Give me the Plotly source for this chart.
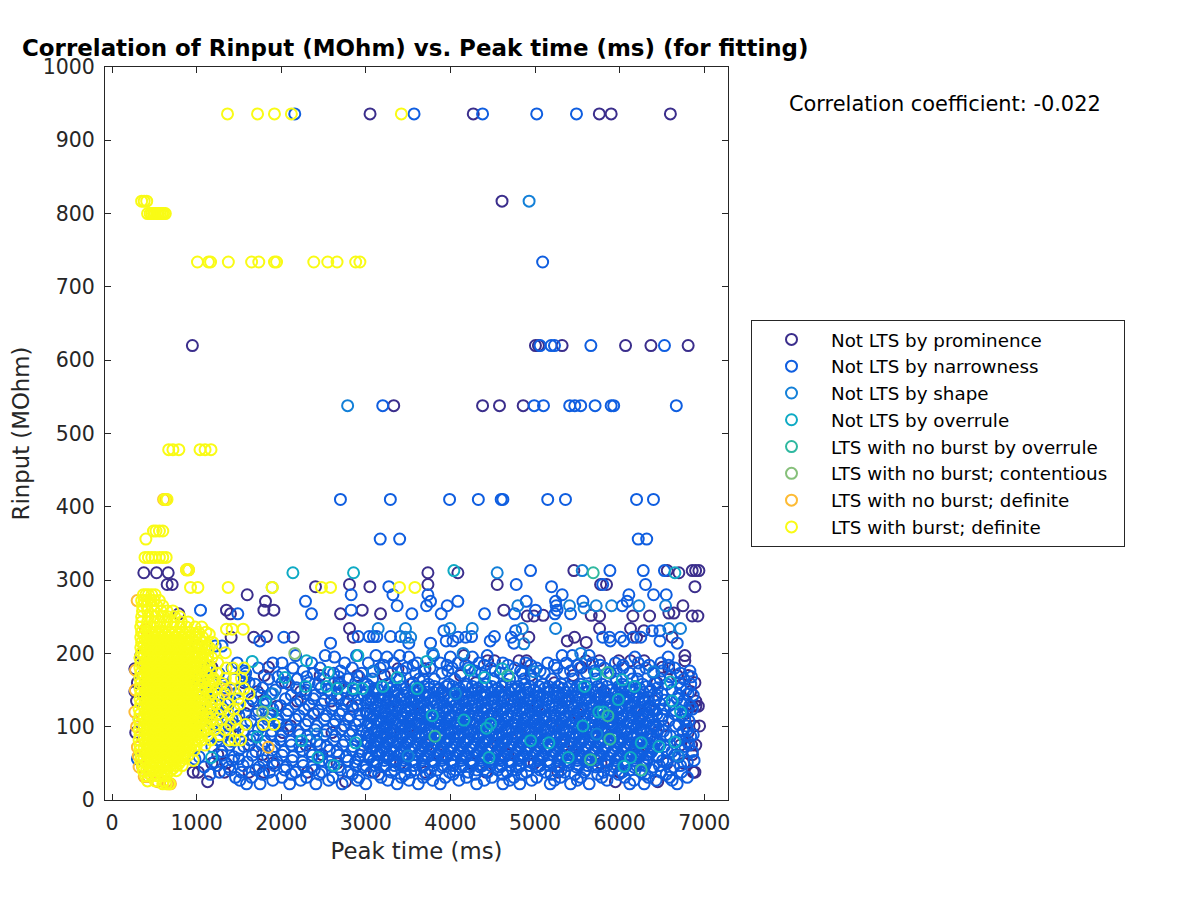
import plotly.graph_objects as go

names = ["Not LTS by prominence", "Not LTS by narrowness", "Not LTS by shape", "Not LTS by overrule",
         "LTS with no burst by overrule", "LTS with no burst; contentious\u00a0\u00a0", "LTS with no burst; definite",
         "LTS with burst; definite"]
colors = ["#3b2e8c", "#0f5ee0", "#1380d8", "#0eaac4", "#2fb8a0", "#86c07a", "#fdbb35", "#f9fb15"]

dark_rows = [
 (936, [3050, 4270, 5760, 5900, 6600]), (817, [4610]),
 (620, [950, 5005, 5040, 5320, 6070, 6370, 6810]),
 (538, [3330, 4380, 4580, 4860]),
 (313, [6858, 6898, 6937, 5459, 6563]), (310, [376, 526, 664, 3734, 4088, 6700]),
 (294, [652, 711, 2807, 3734, 4553, 5775, 5845]), (291, [2405, 3048, 6890]),
 (280, [1598]), (271, [1814]), (265, [6748]), (259, [1795, 1913, 2957, 1353, 4632]),
 (254, [2701, 3174, 1400, 790]), (251, [4908, 4987, 6157, 6354, 6858, 6925, 5763]),
 (252, [5097, 5664]), (255, [6582, 6641]), (234, [2807, 5763, 6129]), (231, [6287]),
 (222, [2851, 1676, 2141, 1408, 5467, 4927, 6200, 6620]), (223, [1826]), (217, [5381]), (215, [5605]),
 (197, [4160, 6771, 340]), (190, [4440, 4520, 4810, 4900, 5600, 5760, 5990, 6130, 6290, 6771]),
 (181, [6504, 5550, 1180, 1850]), (179, [6582, 3380, 3700, 270]),
 (170, [1800, 2460, 2900, 3220, 4120, 4950, 5450, 6680, 6810]),
 (160, [300, 1560, 2050, 2680, 3560, 4300, 5230, 6440, 6890]),
 (148, [1720, 2230, 2760, 3090, 3900, 4600, 5810, 6350, 6840, 270]),
 (135, [290, 1670, 2190, 2590, 3350, 4150, 4750, 5360, 6410, 6900]),
 (128, [6860, 6900, 6930, 1950, 2840, 5030]),
 (118, [1580, 2380, 3010, 3640, 4490, 5500, 6280, 6780]),
 (101, [6945, 6880, 1470, 2110, 2750, 3520, 4350, 5210, 5920, 6520]),
 (92, [280, 1390, 2020, 2600, 3290, 3980, 4820, 5680, 6440, 6810]),
 (75, [6900, 6850, 1620, 2290, 2970, 3730, 4560, 5340, 6130, 6720]),
 (62, [6860, 1250, 1780, 2480, 3150, 3860, 4680, 5520, 6250]),
 (50, [1180, 1350, 1900, 2660, 3410, 4250, 4990, 5780, 6560, 6760]),
 (38, [960, 1020, 1330, 1620, 1790, 2310, 3100, 3700, 4420, 5270, 6000, 6870, 6890]),
 (25, [1130, 2760, 5950, 6450]),
]
narrow_rows = [
 (936, [2160, 3570, 4380, 5020, 5490]), (734, [5090]),
 (620, [5060, 5190, 5230, 5660, 6530]),
 (538, [3200, 4990, 5100, 5410, 5470, 5540, 5710, 5900, 5930, 6670]),
 (410, [2700, 3290, 3990, 4330, 4600, 4620, 5150, 5360, 6200, 6400]),
 (356, [3170, 3400, 6220, 6320]), (313, [4947, 5885, 6279, 6530]),
 (294, [4778, 5800, 6306]), (291, [3272, 5195]), (280, [3320, 2827, 3734, 5321, 6109, 6401, 6551]),
 (271, [2287, 3765, 4088, 4896, 5243, 5566, 6090]), (265, [3370, 3718, 3962, 5250, 6031]),
 (259, [1046, 2827, 5006, 5260]), (254, [1487, 2358, 3544, 3891, 4403, 4758, 5235, 5420]),
 (231, [3923, 4770, 6385, 6476]), (223, [3292, 3410, 2910, 3040, 3090, 3130, 4250, 4520]),
 (222, [2031, 4090, 4180, 4720, 5800, 5880, 6010, 6160, 6250]), (217, [1747, 3950, 4030, 4470, 5890, 6050, 6476]),
 (214, [2583, 3765, 3508, 4750, 6681]), (197, [3800, 2170, 4435, 5320, 5440, 5640, 2520, 2890, 3120, 3400]),
 (195, [6574, 4000, 4260, 2630, 3250, 3510, 6180]),
 (187, [1480, 1900, 2010, 2360, 2750, 3030, 3330, 3610, 3880, 4090, 4340, 4620, 4890, 5150, 5370, 5680, 5950, 6220, 6490]),
 (180, [1120, 1420, 1730, 2140, 2460, 2840, 3170, 3480, 3760, 4020, 4210, 4480, 4760, 5020, 5260, 5530, 5820, 6040, 6310, 6650]),
 (173, [1260, 1580, 2020, 2380, 2620, 2950, 3300, 3590, 3900, 4130, 4370, 4590, 4850, 5110, 5340, 5610, 5890, 6120, 6400, 6720]),
 (165, [1050, 1440, 1850, 2190, 2510, 2790, 3080, 3400, 3680, 3810, 4050, 4280, 4510, 4700, 4960, 5200, 5450, 5720, 5960, 6210, 6480, 6760]),
 (158, [1320, 1690, 2090, 2440, 2700, 3010, 3250, 3530, 3740, 3980, 4190, 4420, 4650, 4880, 5090, 5310, 5540, 5790, 6030, 6270, 6560, 6840]),
 (150, [1130, 1510, 1930, 2290, 2560, 2880, 3150, 3360, 3620, 3850, 4070, 4300, 4530, 4760, 4990, 5230, 5470, 5680, 5900, 6130, 6370, 6620, 6790]),
 (143, [1240, 1760, 2120, 2400, 2660, 2980, 3220, 3450, 3700, 3920, 4140, 4380, 4610, 4830, 5060, 5290, 5510, 5750, 5980, 6200, 6440, 6700, 6870]),
 (136, [1060, 1400, 1820, 2230, 2510, 2790, 3060, 3290, 3530, 3770, 3990, 4220, 4450, 4680, 4910, 5130, 5370, 5590, 5820, 6060, 6290, 6530, 6760]),
 (129, [1170, 1610, 1990, 2330, 2620, 2900, 3140, 3380, 3610, 3840, 4060, 4290, 4520, 4740, 4970, 5200, 5430, 5660, 5890, 6120, 6350, 6590, 6830]),
 (122, [1330, 1730, 2080, 2440, 2720, 3000, 3220, 3460, 3690, 3910, 4140, 4370, 4590, 4820, 5050, 5280, 5510, 5740, 5960, 6190, 6420, 6660, 6800]),
 (115, [1090, 1500, 1870, 2210, 2530, 2810, 3090, 3310, 3540, 3770, 4000, 4220, 4450, 4680, 4910, 5130, 5360, 5590, 5820, 6040, 6270, 6510, 6740]),
 (108, [1240, 1640, 1960, 2320, 2640, 2920, 3170, 3390, 3620, 3850, 4080, 4300, 4530, 4760, 4990, 5210, 5440, 5670, 5900, 6120, 6350, 6580, 6820]),
 (101, [1380, 1780, 2070, 2420, 2740, 3020, 3250, 3470, 3700, 3930, 4160, 4380, 4610, 4840, 5070, 5290, 5520, 5750, 5980, 6200, 6430, 6660, 6790]),
 (94, [1120, 1550, 1890, 2200, 2530, 2840, 3100, 3330, 3550, 3780, 4010, 4240, 4460, 4690, 4920, 5150, 5370, 5600, 5830, 6060, 6280, 6520, 6750]),
 (87, [1260, 1670, 2000, 2310, 2640, 2930, 3180, 3410, 3630, 3860, 4090, 4320, 4540, 4770, 5000, 5230, 5450, 5680, 5910, 6140, 6360, 6600, 6840]),
 (80, [1410, 1810, 2110, 2420, 2750, 3020, 3260, 3490, 3710, 3940, 4170, 4400, 4620, 4850, 5080, 5310, 5530, 5760, 5990, 6220, 6440, 6680, 6810]),
 (73, [1180, 1560, 1920, 2220, 2540, 2850, 3110, 3340, 3570, 3790, 4020, 4250, 4480, 4700, 4930, 5160, 5390, 5610, 5840, 6070, 6300, 6530, 6770]),
 (66, [1300, 1700, 2030, 2340, 2660, 2950, 3190, 3420, 3650, 3870, 4100, 4330, 4560, 4780, 5010, 5240, 5470, 5690, 5920, 6150, 6380, 6620, 6860]),
 (59, [1030, 1440, 1840, 2140, 2450, 2770, 3040, 3270, 3500, 3730, 3950, 4180, 4410, 4640, 4860, 5090, 5320, 5550, 5770, 6000, 6230, 6460, 6700]),
 (52, [1210, 1600, 1950, 2250, 2570, 2880, 3130, 3360, 3590, 3810, 4040, 4270, 4500, 4720, 4950, 5180, 5410, 5630, 5860, 6090, 6320, 6560, 6800]),
 (45, [1090, 1380, 1740, 2060, 2360, 2680, 2970, 3210, 3440, 3670, 3900, 4120, 4350, 4580, 4810, 5030, 5260, 5490, 5720, 5940, 6170, 6400, 6640]),
 (38, [1270, 1530, 1860, 2170, 2480, 2790, 3060, 3300, 3530, 3760, 3990, 4210, 4440, 4670, 4900, 5120, 5350, 5580, 5810, 6030, 6260, 6490, 6730]),
 (31, [1460, 1650, 2010, 2300, 2610, 2920, 3180, 3420, 3680, 3940, 4190, 4490, 4750, 5020, 5300, 5540, 5790, 6060, 6340, 6590, 6800]),
 (22, [1590, 1750, 2100, 2410, 2720, 3000, 3370, 3620, 3880, 4310, 4620, 4820, 5180, 5420, 5640, 6120, 6290, 6680]),
 (56, [300, 980, 1500, 2910, 3330, 4490, 5660]), (110, [320, 1000, 1960, 3290, 5000, 6240]),
 (165, [1000, 3630, 4870, 6150]), (210, [1010, 1220, 1300]),
 # denser core of the cloud, read as a near-solid band
 (155, [3040, 3190, 3320, 3420, 3590, 3690, 3810, 3950, 4030, 4180, 4260, 4370, 4490, 4610, 4720, 4800, 4940, 5050, 5160, 5270, 5410, 5500, 5620, 5740, 5850, 5990, 6070, 6180, 6320]),
 (147, [3010, 3110, 3260, 3340, 3480, 3570, 3720, 3800, 3900, 4040, 4130, 4250, 4400, 4480, 4570, 4710, 4820, 4920, 5030, 5140, 5280, 5360, 5500, 5600, 5710, 5830, 5950, 6030, 6170, 6280]),
 (140, [3070, 3170, 3270, 3410, 3520, 3630, 3740, 3860, 3970, 4090, 4190, 4310, 4410, 4530, 4640, 4770, 4860, 4990, 5090, 5220, 5320, 5440, 5530, 5660, 5770, 5870, 6000, 6110, 6230, 6340]),
 (133, [3000, 3120, 3240, 3330, 3460, 3570, 3680, 3810, 3910, 4020, 4160, 4260, 4370, 4500, 4600, 4710, 4830, 4940, 5040, 5170, 5290, 5390, 5510, 5640, 5720, 5860, 5960, 6090, 6180, 6300]),
 (126, [3060, 3190, 3290, 3410, 3530, 3640, 3730, 3870, 3960, 4100, 4200, 4320, 4430, 4550, 4660, 4780, 4890, 5000, 5120, 5240, 5330, 5460, 5570, 5690, 5790, 5920, 6020, 6140, 6240, 6360]),
 (119, [3020, 3150, 3240, 3370, 3480, 3600, 3700, 3830, 3920, 4050, 4170, 4270, 4390, 4510, 4620, 4730, 4850, 4950, 5070, 5190, 5300, 5400, 5530, 5640, 5750, 5870, 5980, 6100, 6200, 6330]),
 (112, [3080, 3200, 3300, 3440, 3530, 3660, 3760, 3880, 3990, 4110, 4210, 4340, 4440, 4560, 4670, 4790, 4890, 5020, 5120, 5240, 5350, 5470, 5570, 5700, 5800, 5920, 6030, 6150, 6260, 6380]),
 (105, [3030, 3130, 3260, 3350, 3490, 3590, 3700, 3820, 3940, 4040, 4170, 4280, 4390, 4500, 4620, 4740, 4850, 4960, 5060, 5190, 5300, 5410, 5530, 5630, 5760, 5860, 5980, 6090, 6210, 6310]),
 (98, [3070, 3200, 3290, 3420, 3520, 3650, 3750, 3870, 3970, 4100, 4200, 4330, 4430, 4550, 4660, 4780, 4880, 5010, 5110, 5240, 5340, 5460, 5570, 5680, 5790, 5910, 6020, 6140, 6250, 6370]),
 (91, [3010, 3140, 3240, 3370, 3470, 3590, 3700, 3820, 3930, 4050, 4150, 4280, 4380, 4500, 4610, 4730, 4830, 4960, 5060, 5190, 5290, 5410, 5520, 5630, 5740, 5860, 5970, 6090, 6200, 6320]),
 (84, [3070, 3190, 3300, 3430, 3540, 3650, 3770, 3880, 3990, 4110, 4220, 4340, 4440, 4570, 4670, 4790, 4900, 5020, 5130, 5250, 5350, 5480, 5580, 5700, 5810, 5930, 6040, 6160, 6260, 6390]),
 (77, [3020, 3150, 3250, 3380, 3480, 3610, 3710, 3830, 3940, 4060, 4170, 4290, 4390, 4520, 4620, 4740, 4850, 4970, 5080, 5200, 5300, 5430, 5530, 5650, 5760, 5880, 5990, 6110, 6210, 6340]),
 (70, [3080, 3210, 3310, 3440, 3540, 3660, 3770, 3890, 4000, 4120, 4230, 4350, 4450, 4580, 4680, 4800, 4910, 5030, 5140, 5260, 5360, 5490, 5590, 5710, 5820, 5940, 6050, 6170, 6270, 6400]),
 (62, [3030, 3160, 3260, 3390, 3490, 3610, 3720, 3840, 3950, 4070, 4180, 4300, 4400, 4530, 4630, 4750, 4860, 4980, 5090, 5210, 5310, 5440, 5540, 5660, 5770, 5890, 6000, 6120, 6220, 6350]),
 (54, [3090, 3220, 3320, 3450, 3550, 3670, 3780, 3900, 4010, 4130, 4240, 4360, 4460, 4590, 4690, 4810, 4920, 5040, 5150, 5270, 5370, 5500, 5600, 5720, 5830, 5950, 6060, 6180, 6280]),
 (47, [3000, 3110, 3240, 3340, 3470, 3570, 3690, 3800, 3920, 4030, 4150, 4260, 4380, 4480, 4610, 4710, 4830, 4940, 5060, 5170, 5290, 5390, 5520, 5620, 5740, 5850, 5970, 6080, 6200, 6300]),
 (152, [3100, 3280, 3470, 3640, 3870, 4110, 4330, 4560, 4770, 4890, 5110, 5330, 5560, 5780, 6010, 6240]),
 (137, [3030, 3210, 3420, 3600, 3820, 4040, 4270, 4490, 4720, 4930, 5150, 5390, 5610, 5840, 6040, 6270]),
 (123, [3110, 3310, 3520, 3730, 3960, 4180, 4410, 4630, 4860, 5090, 5320, 5540, 5770, 5990, 6220, 6390]),
 (116, [3050, 3250, 3450, 3650, 3880, 4100, 4330, 4560, 4790, 5000, 5230, 5460, 5690, 5910, 6140, 6350]),
 (109, [3120, 3320, 3510, 3730, 3960, 4190, 4410, 4640, 4870, 5090, 5320, 5550, 5780, 6000, 6230]),
 (102, [3060, 3230, 3430, 3650, 3880, 4110, 4340, 4570, 4790, 5020, 5250, 5480, 5710, 5930, 6160, 6390]),
 (95, [3130, 3310, 3510, 3740, 3970, 4190, 4420, 4650, 4880, 5100, 5330, 5560, 5790, 6010, 6240]),
 (88, [3040, 3230, 3450, 3660, 3890, 4120, 4350, 4580, 4800, 5030, 5260, 5490, 5720, 5950, 6170, 6380]),
 (81, [3110, 3320, 3520, 3750, 3980, 4200, 4430, 4660, 4890, 5110, 5340, 5570, 5800, 6030, 6250]),
 (73, [3060, 3240, 3460, 3670, 3900, 4130, 4360, 4590, 4810, 5040, 5270, 5500, 5730, 5960, 6180, 6390]),
 (65, [3120, 3330, 3540, 3760, 3990, 4210, 4440, 4670, 4900, 5120, 5350, 5580, 5810, 6040, 6260]),
 (57, [3040, 3250, 3470, 3690, 3910, 4140, 4370, 4600, 4820, 5050, 5280, 5510, 5740, 5970, 6190, 6330]),
 # thinner cloud towards the left and right ends
 (168, [1570, 1960, 2300, 2680, 2920, 6600, 6850]), (160, [1180, 1620, 2010, 2330, 2630, 2880, 6420, 6700]),
 (153, [1330, 1780, 2180, 2470, 2760, 6450, 6720]), (145, [1460, 1880, 2290, 2590, 2840, 6500, 6810]),
 (138, [1180, 1650, 2050, 2380, 2680, 2910, 6430, 6680]), (131, [1350, 1790, 2170, 2480, 2760, 6480, 6730]),
 (124, [1490, 1900, 2270, 2600, 2850, 6520, 6860]), (117, [1270, 1700, 2060, 2390, 2690, 2930, 6440, 6650]),
 (110, [1420, 1840, 2170, 2510, 2790, 6500, 6770]), (103, [1190, 1590, 1970, 2290, 2620, 2880, 6410, 6700]),
 (96, [1340, 1730, 2090, 2400, 2710, 2950, 6460, 6800]), (89, [1460, 1880, 2220, 2510, 2810, 6550, 6870]),
 (82, [1250, 1630, 1990, 2340, 2620, 2890, 6420, 6710]), (75, [1390, 1770, 2120, 2460, 2730, 6480, 6820]),
 (68, [1500, 1890, 2250, 2570, 2840, 6560, 6740]), (61, [1300, 1660, 2010, 2370, 2680, 2930, 6440, 6650]),
 (54, [1420, 1790, 2130, 2480, 2790, 6510, 6880]), (47, [1240, 1550, 1920, 2260, 2590, 2880, 6470, 6720]),
 (41, [1400, 1700, 2040, 2390, 2700, 3000, 3340, 3590, 3850, 4060, 4310, 4560, 4780, 5060, 5310, 5600, 5900, 6120, 6380, 6600]),
 (35, [1160, 1780, 2120, 2450, 2840, 3150, 3460, 3720, 4030, 4290, 4620, 4840, 5190, 5470, 5740, 5990, 6300, 6550]),
 (27, [1510, 1900, 2230, 2560, 2900, 3260, 3510, 3790, 4100, 4400, 4700, 4960, 5230, 5500, 5850, 6170, 6430, 6620]),
 (184, [3210, 3560, 3960, 4180, 4400, 4680, 4950, 5230, 5510, 5770, 6040, 6350, 6580]),
 (176, [1560, 2260, 2700, 3090, 3430, 3690, 3970, 4290, 4530, 4830, 5060, 5420, 5700, 5960, 6230, 6500, 6830]),
]
shape_rows = [
 (817, [4930]), (538, [2785]), (310, [4553]), (313, [5558]),
 (265, [4797, 5408, 5723, 5905, 6228, 6543]), (262, [5580]),
 (234, [3146, 3469, 3994, 4258, 4849, 5243, 6582, 6720]), (222, [3469, 3530]), (213, [4868]),
 (200, [3790, 4150, 5540]), (175, [4990, 3080, 6400]), (145, [1900, 4060]), (90, [2420, 5730]), (60, [3500, 6690]),
]
overrule_rows = [
 (313, [4041]), (310, [2138, 2855, 6653]), (189, [3718, 1657]), (190, [2299]), (197, [2906]),
 (177, [4226]), (179, [4612]), (167, [2043, 3370, 4403]), (174, [2555]),
 (155, [2287, 2535, 3201, 5585, 6176]), (152, [2661, 2851, 2957, 3607]), (172, [5716]),
 (164, [6031]), (161, [6602]), (137, [5984]), (135, [6622]), (134, [1814]), (120, [6720, 5755, 5806]),
 (118, [1893]), (115, [3785]), (109, [4159]), (104, [4474]), (98, [4427]), (101, [5566]),
 (86, [1716]), (81, [2240, 4947]), (78, [2878, 5164]), (73, [6464]), (79, [6653]),
 (58, [2433, 1176, 4455, 5392, 6129]), (47, [2622]), (46, [6050]), (78, [6255]),
]
lts_overrule_rows = [(310, [5688]), (174, [5861]), (170, [4679]), (115, [5861]), (87, [3816]), (83, [5885]), (55, [5656]), (41, [6255])]
contentious_rows = [(290, [1893]), (200, [2160]), (120, [1780])]
definite_rows = [
 (410, [610, 640]), (314, [880, 905]), (272, [297]), (233, [396]), (177, [278]), (150, [275, 1350]), (120, [270]),
 (100, [290]), (72, [1846, 300]), (60, [310]), (45, [320, 360]), (32, [380, 430]), (25, [540, 640]), (22, [691, 660]),
]
burst_rows = [
 (936, [1365, 1720, 1920, 2120, 3420]), (817, [350, 380, 410]),
 (800, [420, 450, 470, 490, 510, 530, 550, 570, 590, 610, 630]),
 (734, [1010, 1140, 1165, 1375, 1650, 1735, 1920, 1945, 2385, 2550, 2660, 2880, 2930]),
 (478, [670, 720, 790, 1040, 1100, 1170]), (410, [620, 650]),
 (367, [490, 520, 560, 600]), (356, [400]), (331, [390, 430, 470, 510, 560, 600, 640]),
 (314, [880, 905]), (290, [928, 1015, 1373, 1893, 2476, 2583, 3398, 3580]),
 (280, [370, 400, 430, 470, 510]), (272, [350, 380, 420, 460, 500, 560]),
 (265, [360, 410, 470, 530, 600]), (258, [360, 420, 500, 580, 650, 720]),
 (250, [350, 430, 510, 590, 660, 740, 800]), (243, [350, 420, 500, 570, 650, 730, 820, 900]),
 (236, [340, 410, 490, 570, 640, 720, 810, 880, 980, 1060]), (233, [1353, 1420, 1550]),
 (229, [350, 430, 510, 590, 670, 750, 830, 920, 1020, 1110]), (222, [340, 420, 500, 580, 660, 740, 820, 900, 980, 1070]),
 (215, [350, 430, 510, 590, 670, 750, 830, 910, 1000, 1090, 1190]), (208, [340, 420, 500, 580, 660, 740, 820, 900, 980, 1060, 1150]),
 (201, [350, 430, 510, 590, 670, 750, 830, 910, 990, 1080, 1210, 1340]), (194, [330, 420, 500, 580, 660, 740, 820, 900, 980, 1070, 1180]),
 (187, [340, 430, 510, 590, 670, 750, 830, 910, 990, 1090, 1250]), (180, [330, 420, 500, 580, 660, 740, 820, 900, 980, 1080, 1350, 1430, 1560]),
 (173, [340, 430, 510, 590, 670, 750, 830, 910, 990, 1110, 1240]), (166, [330, 420, 500, 580, 660, 740, 820, 900, 980, 1070, 1200, 1340, 1450, 1530]),
 (159, [340, 430, 510, 590, 670, 750, 830, 910, 1010, 1150, 1300]), (152, [330, 420, 500, 580, 660, 740, 820, 900, 980, 1100, 1240, 1400, 1560]),
 (145, [340, 430, 510, 590, 670, 750, 830, 910, 990, 1070, 1180, 1330, 1620]), (138, [330, 420, 500, 580, 660, 740, 820, 900, 980, 1100, 1260, 1490]),
 (131, [340, 430, 510, 590, 670, 750, 830, 910, 990, 1090, 1220, 1370, 1510]), (124, [320, 420, 500, 580, 660, 740, 820, 900, 980, 1070, 1180, 1300, 1440]),
 (117, [330, 430, 510, 590, 670, 750, 830, 910, 990, 1120, 1250, 1380]), (110, [320, 420, 500, 580, 660, 740, 820, 900, 980, 1060, 1170, 1300, 1460]),
 (103, [330, 430, 510, 590, 670, 750, 830, 910, 990, 1100, 1240, 1400, 1580, 1790, 1915]), (96, [320, 420, 500, 580, 660, 740, 820, 900, 980, 1080, 1210, 1340, 1490]),
 (89, [330, 430, 510, 590, 670, 750, 830, 910, 990, 1130, 1270]), (82, [320, 420, 500, 580, 660, 740, 820, 900, 980, 1060, 1170, 1380, 1450, 1520]),
 (75, [330, 430, 510, 590, 670, 750, 830, 910, 1000, 1100]), (68, [330, 420, 500, 580, 660, 740, 820, 900, 970]),
 (61, [340, 430, 510, 590, 670, 750, 830, 900]), (54, [340, 420, 500, 580, 660, 740, 820, 960]),
 (47, [360, 440, 520, 600, 680, 750, 830]), (40, [370, 450, 530, 610, 690, 760]),
 (33, [400, 470, 540, 620]), (26, [420, 510, 610]), (22, [600, 640, 680]),
 # interleaved rows that close the solid yellow core
 (226, [380, 460, 540, 620, 700, 780, 860, 1000, 1150]), (219, [390, 470, 550, 630, 710, 790, 870, 950, 1040]),
 (211, [380, 460, 540, 620, 700, 780, 860, 940, 1030, 1120]), (205, [390, 470, 550, 630, 710, 790, 870, 1040, 1130]),
 (197, [380, 460, 540, 620, 700, 780, 860, 940, 1030, 1130]), (190, [390, 470, 550, 630, 710, 790, 870, 950, 1040, 1130]),
 (183, [380, 460, 540, 620, 700, 780, 860, 940, 1040, 1150]), (176, [390, 470, 550, 630, 710, 790, 870, 950, 1060, 1170]),
 (169, [380, 460, 540, 620, 700, 780, 860, 940, 1030, 1130]), (162, [390, 470, 550, 630, 710, 790, 870, 950, 1080, 1210]),
 (155, [380, 460, 540, 620, 700, 780, 860, 940, 1050, 1170]), (148, [390, 470, 550, 630, 710, 790, 870, 950, 1040, 1140]),
 (141, [380, 460, 540, 620, 700, 780, 860, 940, 1030, 1150]), (134, [390, 470, 550, 630, 710, 790, 870, 950, 1040, 1180]),
 (127, [380, 460, 540, 620, 700, 780, 860, 940, 1030, 1120]), (120, [390, 470, 550, 630, 710, 790, 870, 950, 1050, 1160]),
 (113, [380, 460, 540, 620, 700, 780, 860, 940, 1020, 1120]), (106, [390, 470, 550, 630, 710, 790, 870, 950, 1040, 1160]),
 (99, [380, 460, 540, 620, 700, 780, 860, 940, 1030, 1140]), (92, [390, 470, 550, 630, 710, 790, 870, 950, 1050]),
 (85, [380, 460, 540, 620, 700, 780, 860, 940, 1040]), (78, [390, 470, 550, 630, 710, 790, 870, 950]),
 (71, [380, 460, 540, 620, 700, 780, 860, 930]), (64, [390, 470, 550, 630, 710, 790, 860]),
 (57, [380, 460, 540, 620, 700, 780, 860]), (50, [400, 480, 560, 640, 720, 790]), (43, [410, 490, 570, 650, 720]),
 (36, [440, 510, 580, 650]),
]
all_rows = [dark_rows, narrow_rows, shape_rows, overrule_rows, lts_overrule_rows, contentious_rows, definite_rows, burst_rows]

x_ticks = [0, 1000, 2000, 3000, 4000, 5000, 6000, 7000]
y_ticks = [0, 100, 200, 300, 400, 500, 600, 700, 800, 900, 1000]

fig = go.Figure()
for name, color, rows in zip(names, colors, all_rows):
    xs = [x for y, row in rows for x in row]
    ys = [y for y, row in rows for x in row]
    fig.add_trace(go.Scatter(x=xs, y=ys, mode="markers", name=name, legendgroup=name,
                             marker=dict(symbol="circle-open", size=11, color=color, line=dict(width=2, color=color))))

axis_font = dict(family="DejaVu Sans", size=20.5, color="#262626")
title_font = dict(family="DejaVu Sans", size=22.8, color="#262626")
common = dict(showgrid=False, zeroline=False, showline=True, linecolor="#262626", linewidth=1,
              mirror="ticks", ticks="inside", ticklen=6, tickcolor="#262626", tickfont=axis_font)
fig.update_xaxes(range=[-83, 7281], tickvals=x_ticks, ticklabelstandoff=4, title=dict(text="Peak time (ms)", font=title_font, standoff=9), **common)
fig.update_yaxes(range=[0, 1000], tickvals=y_ticks, ticklabelstandoff=5, title=dict(text="Rinput (MOhm)", font=title_font, standoff=6), **common)
fig.update_layout(
    width=1200, height=900, autosize=False, template=None,
    paper_bgcolor="white", plot_bgcolor="white",
    margin=dict(l=105, r=472, t=67, b=100, pad=0),
    font=dict(family="DejaVu Sans"),
    title=dict(text="<b>Correlation of Rinput (MOhm) vs. Peak time (ms) (for fitting)</b>", x=22/1200, xanchor="left",
               y=1-47.5/900, yanchor="middle", font=dict(family="DejaVu Sans", size=22.95, color="black")),
    legend=dict(x=(751-105)/623, xanchor="left", y=1-(320-67)/733, yanchor="top", bgcolor="white", bordercolor="#262626", borderwidth=1,
                font=dict(family="DejaVu Sans", size=18.3, color="black"), itemwidth=69, tracegroupgap=0, itemclick=False),
    annotations=[dict(text="Correlation coefficient: -0.022", xref="paper", yref="paper", x=(787-105)/623, y=1-(104-67)/733,
                      xanchor="left", yanchor="middle", showarrow=False, font=dict(family="DejaVu Sans", size=20.9, color="black"))],
)
fig.write_html("out.html", post_script="document.body.style.margin='0';", config={"displayModeBar": False})
